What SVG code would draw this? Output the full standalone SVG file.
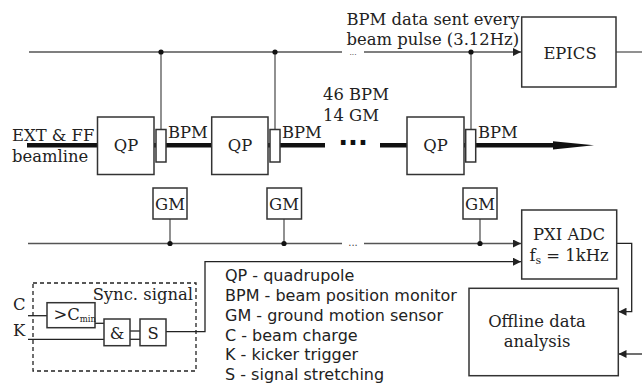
<svg xmlns="http://www.w3.org/2000/svg" width="642" height="386" viewBox="0 0 642 386">
<defs>
<style>
.box{fill:#fff;stroke:#333;stroke-width:1.5}
.bus{fill:none;stroke:#555;stroke-width:1.3}
.wire{fill:none;stroke:#222;stroke-width:1.3}
.serif{font-family:"DejaVu Serif",serif;font-size:16.4px;fill:#222}
.sans{font-family:"DejaVu Sans",sans-serif;font-size:16px;fill:#222}
.dot{fill:#111}
</style>
<marker id="arr" viewBox="0 0 10 10" refX="10" refY="5" markerWidth="8" markerHeight="8" markerUnits="userSpaceOnUse" orient="auto">
<path d="M0,0 L10,5 L0,10 z" fill="#222"/>
</marker>
</defs>
<rect width="642" height="386" fill="#fff"/>

<g id="connectors">
<!-- beamline -->
<line x1="27" y1="145.3" x2="556" y2="145.3" stroke="#111" stroke-width="4.5"/>
<polygon points="553,141.2 594,145.3 553,149.4" fill="#111"/>
<!-- top bus -->
<line class="bus" x1="29" y1="52" x2="521" y2="52" marker-end="url(#arr)"/>
<line class="bus" x1="616" y1="52" x2="642" y2="52"/>
<line class="bus" x1="161" y1="52" x2="161" y2="129.5"/>
<line class="bus" x1="275" y1="52" x2="275" y2="129.5"/>
<line class="bus" x1="471" y1="52" x2="471" y2="129.5"/>
<circle class="dot" cx="161" cy="52" r="2.6"/>
<circle class="dot" cx="275" cy="52" r="2.6"/>
<circle class="dot" cx="471" cy="52" r="2.6"/>
<!-- GM bus -->
<line class="bus" x1="28" y1="243.5" x2="521" y2="243.5" marker-end="url(#arr)"/>
<line class="bus" x1="170" y1="219" x2="170" y2="243.5"/>
<line class="bus" x1="284" y1="219" x2="284" y2="243.5"/>
<line class="bus" x1="480" y1="219" x2="480" y2="243.5"/>
<circle class="dot" cx="170" cy="243.5" r="2.6"/>
<circle class="dot" cx="284" cy="243.5" r="2.6"/>
<circle class="dot" cx="480" cy="243.5" r="2.6"/>
<!-- sync to PXI -->
<polyline class="wire" points="166,331.7 205,331.7 205,261.7 521,261.7" marker-end="url(#arr)"/>
<!-- PXI to offline -->
<polyline class="wire" points="616.7,243.3 631.7,243.3 631.7,311.7 618.5,311.7" marker-end="url(#arr)"/>
<line class="wire" x1="642" y1="354" x2="618.5" y2="354" marker-end="url(#arr)"/>
<!-- sync internal -->
<line class="wire" x1="28" y1="315.7" x2="47" y2="315.7"/>
<line class="wire" x1="28" y1="339.3" x2="104" y2="339.3"/>
<polyline class="wire" points="95,323.3 104,323.3"/>
<line class="wire" x1="130" y1="331" x2="140" y2="331"/>
<line class="wire" x1="130" y1="339.3" x2="140" y2="339.3"/>
</g>

<!-- ellipsis placeholders -->
<g id="ellipsis-top">
<rect x="342" y="47" width="22" height="16" fill="#fff"/>
<text x="353" y="54.5" text-anchor="middle" font-family="DejaVu Sans,sans-serif" font-size="7.5" fill="#444">...</text>
</g>
<g id="ellipsis-gm">
<rect x="342" y="233" width="22" height="22" fill="#fff"/>
<text x="353" y="246" text-anchor="middle" font-family="DejaVu Sans,sans-serif" font-size="10" fill="#444">...</text>
</g>
<g id="ellipsis-beam">
<rect x="325" y="123" width="55" height="51" fill="#fff"/>
<text x="353" y="152" text-anchor="middle" font-family="DejaVu Sans,sans-serif" font-size="26" font-weight="bold" fill="#111">···</text>
</g>

<g id="label-beamline">
<text class="serif" x="12" y="141">EXT &amp; FF</text>
<text class="serif" x="12" y="162">beamline</text>
</g>

<g id="qp1"><rect class="box" x="97.5" y="117" width="56.5" height="57.5"/><text class="serif" x="126" y="151" text-anchor="middle">QP</text></g>
<g id="bpm1"><rect class="box" x="156" y="129.5" width="10" height="32.5"/><text class="serif" x="168" y="138">BPM</text></g>
<g id="qp2"><rect class="box" x="211.7" y="117" width="56.3" height="57.5"/><text class="serif" x="240" y="151" text-anchor="middle">QP</text></g>
<g id="bpm2"><rect class="box" x="270" y="129.5" width="10" height="32.5"/><text class="serif" x="282" y="138">BPM</text></g>
<g id="qp3"><rect class="box" x="407" y="117" width="57" height="57.5"/><text class="serif" x="435.5" y="151" text-anchor="middle">QP</text></g>
<g id="bpm3"><rect class="box" x="465.7" y="129.5" width="10" height="32.5"/><text class="serif" x="478" y="138">BPM</text></g>

<g id="count-label">
<text class="serif" x="323" y="100">46 BPM</text>
<text class="serif" x="323" y="121">14 GM</text>
</g>

<g id="gm1"><rect class="box" x="153" y="188" width="34" height="31"/><text class="serif" x="170" y="210" text-anchor="middle">GM</text></g>
<g id="gm2"><rect class="box" x="267" y="188" width="34.5" height="31"/><text class="serif" x="284" y="210" text-anchor="middle">GM</text></g>
<g id="gm3"><rect class="box" x="463" y="188" width="34" height="31"/><text class="serif" x="480" y="210" text-anchor="middle">GM</text></g>

<g id="bpm-data-label">
<text class="serif" x="346.5" y="25">BPM data sent every</text>
<text class="serif" x="346.5" y="44.5">beam pulse (3.12Hz)</text>
</g>

<g id="epics"><rect class="box" x="521.7" y="17" width="94.3" height="70"/><text class="serif" x="570" y="59" text-anchor="middle">EPICS</text></g>

<g id="pxi-adc"><rect class="box" x="521.7" y="210" width="95" height="69"/>
<text class="serif" x="569" y="240" text-anchor="middle">PXI ADC</text>
<text class="serif" x="569" y="261" text-anchor="middle">f<tspan font-size="11" dy="3">s</tspan><tspan dy="-3"> = 1kHz</tspan></text>
</g>

<g id="offline"><rect class="box" x="469" y="288.3" width="149.3" height="87.4"/>
<text class="serif" x="537" y="327" text-anchor="middle">Offline data</text>
<text class="serif" x="537" y="347" text-anchor="middle">analysis</text>
</g>

<g id="sync-block">
<rect x="33" y="283" width="163" height="88" fill="none" stroke="#222" stroke-width="1.3" stroke-dasharray="4,3"/>
<text class="serif" x="193" y="300" text-anchor="end">Sync. signal</text>
<text class="serif" x="13" y="310">C</text>
<text class="serif" x="13" y="336">K</text>
</g>
<g id="cmin"><rect class="box" x="47" y="302.7" width="48" height="25"/><text class="serif" x="53.5" y="320" font-size="12">&gt;C<tspan font-size="8.5" dy="2">min</tspan></text></g>
<g id="and"><rect class="box" x="104" y="319" width="26" height="26.7"/><text class="serif" x="117" y="338.5" text-anchor="middle">&amp;</text></g>
<g id="stretch"><rect class="box" x="140" y="319" width="26" height="26.7"/><text class="serif" x="153" y="338.5" text-anchor="middle">S</text></g>

<g id="legend">
<text class="sans" x="225" y="280.7">QP - quadrupole</text>
<text class="sans" x="225" y="300.7">BPM - beam position monitor</text>
<text class="sans" x="225" y="320.7">GM - ground motion sensor</text>
<text class="sans" x="225" y="340.7">C - beam charge</text>
<text class="sans" x="225" y="360.3">K - kicker trigger</text>
<text class="sans" x="225" y="380">S - signal stretching</text>
</g>
</svg>
